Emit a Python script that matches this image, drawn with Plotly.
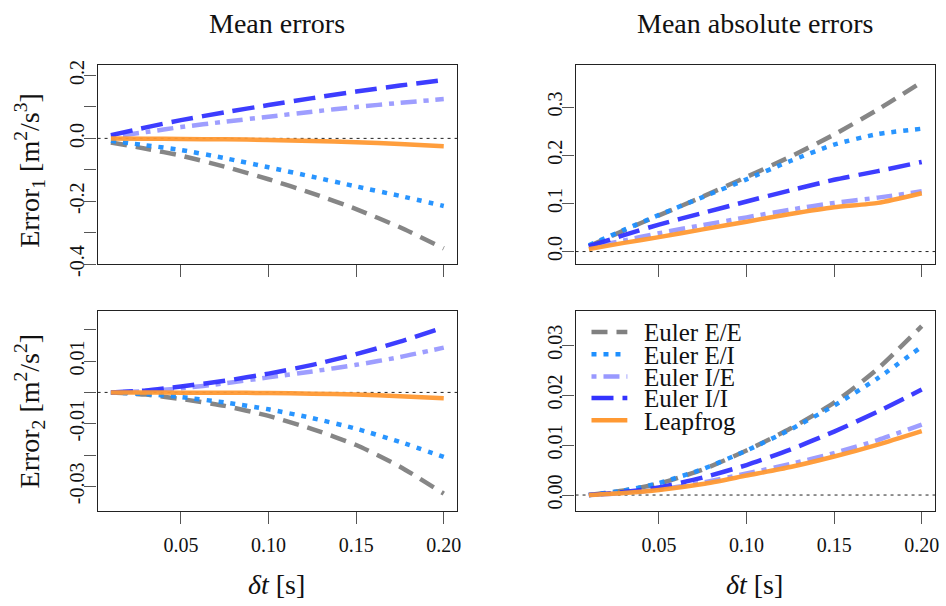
import plotly.graph_objects as go

# ---------------- data ----------------
dt = [0.01, 0.03, 0.05, 0.075, 0.10, 0.125, 0.15, 0.175, 0.20]
series_names = ["Euler E/E", "Euler E/I", "Euler I/E", "Euler I/I", "Leapfrog"]

# Mean errors, Error_1
me1_EE = [-0.013, -0.033, -0.055, -0.090, -0.130, -0.175, -0.225, -0.283, -0.350]
me1_EI = [-0.008, -0.022, -0.037, -0.063, -0.092, -0.122, -0.153, -0.183, -0.215]
me1_IE = [0.005, 0.020, 0.036, 0.053, 0.069, 0.085, 0.100, 0.113, 0.125]
me1_II = [0.010, 0.035, 0.058, 0.083, 0.106, 0.128, 0.149, 0.168, 0.186]
me1_LF = [0.000, -0.001, -0.002, -0.003, -0.005, -0.008, -0.012, -0.018, -0.025]

# Mean absolute errors, Error_1
mae1_EE = [0.011, 0.044, 0.075, 0.114, 0.155, 0.197, 0.243, 0.295, 0.352]
mae1_EI = [0.013, 0.045, 0.076, 0.113, 0.150, 0.188, 0.222, 0.244, 0.255]
mae1_IE = [0.008, 0.023, 0.038, 0.055, 0.071, 0.087, 0.101, 0.112, 0.125]
mae1_II = [0.011, 0.034, 0.056, 0.080, 0.104, 0.127, 0.149, 0.167, 0.186]
mae1_LF = [0.005, 0.018, 0.030, 0.046, 0.062, 0.078, 0.092, 0.101, 0.121]

# Mean errors, Error_2
me2_EE = [0.0, -0.0007, -0.0021, -0.0043, -0.0075, -0.0117, -0.0168, -0.0237, -0.0323]
me2_EI = [0.0, -0.0005, -0.0015, -0.0032, -0.0054, -0.0082, -0.0116, -0.0158, -0.0206]
me2_IE = [0.0, 0.0004, 0.0013, 0.0029, 0.0048, 0.0067, 0.0088, 0.0113, 0.0143]
me2_II = [0.0, 0.0006, 0.0019, 0.0037, 0.0060, 0.0088, 0.0122, 0.0162, 0.0208]
me2_LF = [0.0, 0.0, -0.0001, -0.0001, -0.0002, -0.0004, -0.0007, -0.0012, -0.0019]

# Mean absolute errors, Error_2
mae2_EE = [0.0, 0.0009, 0.0023, 0.0051, 0.0089, 0.0133, 0.0185, 0.0253, 0.0338]
mae2_EI = [0.0, 0.0009, 0.0024, 0.0052, 0.0089, 0.0131, 0.0179, 0.0234, 0.0297]
mae2_IE = [0.0, 0.0004, 0.0011, 0.0025, 0.0043, 0.0062, 0.0084, 0.0110, 0.0141]
mae2_II = [0.0, 0.0006, 0.0015, 0.0035, 0.0060, 0.0091, 0.0127, 0.0167, 0.0211]
mae2_LF = [0.0, 0.0004, 0.0010, 0.0022, 0.0039, 0.0056, 0.0077, 0.0101, 0.0128]

x_ticks = [0.05, 0.10, 0.15, 0.20]
x_tick_labels = ["0.05", "0.10", "0.15", "0.20"]
y1L_ticks = [-0.4, -0.3, -0.2, -0.1, 0.0, 0.1, 0.2]
y1L_labels = ["-0.4", "", "-0.2", "", "0.0", "", "0.2"]
y1R_ticks = [0.0, 0.1, 0.2, 0.3]
y1R_labels = ["0.0", "0.1", "0.2", "0.3"]
y2L_ticks = [-0.03, -0.02, -0.01, 0.0, 0.01, 0.02]
y2L_labels = ["-0.03", "", "-0.01", "", "0.01", ""]
y2R_ticks = [0.0, 0.01, 0.02, 0.03]
y2R_labels = ["0.00", "0.01", "0.02", "0.03"]

# ---------------- styles ----------------
colors = ["#808080", "#1E90FF", "#9999FF", "#3333FF", "#FF9933"]
dashes = ["16px,9px", "5px,7px", "5px,7px,16px,7px", "22px,9px", "solid"]
LW = 4.5
FONT = "Liberation Serif, Times New Roman, serif"
TXT = "#111"

fig = go.Figure()

panels = [
    ("x", "y", [me1_EE, me1_EI, me1_IE, me1_II, me1_LF]),
    ("x2", "y2", [mae1_EE, mae1_EI, mae1_IE, mae1_II, mae1_LF]),
    ("x3", "y3", [me2_EE, me2_EI, me2_IE, me2_II, me2_LF]),
    ("x4", "y4", [mae2_EE, mae2_EI, mae2_IE, mae2_II, mae2_LF]),
]
for pi, (xa, ya, data) in enumerate(panels):
    for si, vals in enumerate(data):
        fig.add_trace(go.Scatter(
            x=dt, y=vals, xaxis=xa, yaxis=ya, mode="lines",
            name=series_names[si],
            line=dict(color=colors[si], width=LW, dash=dashes[si], shape="spline", smoothing=0.6),
            opacity=0.95,
            showlegend=False,
        ))

W, H = 946, 606
def px_x(a, b):
    return [a / W, b / W]
def px_y(top, bottom):
    return [1 - bottom / H, 1 - top / H]

xdomL = px_x(98, 459)
xdomR = px_x(578, 939)
ydomT = px_y(62, 267)
ydomB = px_y(315, 521)

axis_common = dict(
    showline=True, mirror=True, linecolor="#222", linewidth=1.3,
    ticks="outside", ticklen=12, tickwidth=1.3, tickcolor="#555",
    showgrid=False, zeroline=False,
    tickfont=dict(family=FONT, size=20, color=TXT),
)
xrange = [0.0024, 0.2076]

def xaxis(dom, anchor, labels):
    return dict(axis_common, domain=dom, anchor=anchor, range=xrange,
                tickmode="array", tickvals=x_ticks, ticklabelstandoff=4,
                ticktext=x_tick_labels if labels else [""] * len(x_ticks))

def yaxis(dom, anchor, rng, tv, tt):
    return dict(axis_common, domain=dom, anchor=anchor, range=rng,
                tickmode="array", tickvals=tv, ticktext=tt, tickangle=-90,
                ticklabelstandoff=-8)

fig.update_layout(
    width=W, height=H,
    margin=dict(l=0, r=0, t=0, b=0),
    paper_bgcolor="white", plot_bgcolor="white",
    font=dict(family=FONT, color=TXT),
    xaxis=xaxis(xdomL, "y", False),
    yaxis=yaxis(ydomT, "x", [-0.40, 0.233], y1L_ticks, y1L_labels),
    xaxis2=xaxis(xdomR, "y2", False),
    yaxis2=yaxis(ydomT, "x2", [-0.026, 0.387], y1R_ticks, y1R_labels),
    xaxis3=xaxis(xdomL, "y3", True),
    yaxis3=yaxis(ydomB, "x3", [-0.0377, 0.0261], y2L_ticks, y2L_labels),
    xaxis4=xaxis(xdomR, "y4", True),
    yaxis4=yaxis(ydomB, "x4", [-0.0031, 0.0369], y2R_ticks, y2R_labels),
    showlegend=False,
)

# zero reference lines
for xa, ya in [("x", "y"), ("x2", "y2"), ("x3", "y3"), ("x4", "y4")]:
    fig.add_shape(type="line", xref=f"{xa} domain", yref=ya, x0=0, x1=1, y0=0, y1=0,
                  line=dict(color="#222", width=1, dash="3px,4px"), layer="below")

# legend (drawn as line samples + text, R-style compact spacing)
leg_y = [337, 360, 383, 405, 428]
for si, name in enumerate(series_names):
    yy = 1 - leg_y[si] / H
    fig.add_shape(type="line", xref="paper", yref="paper", x0=594 / W, x1=630 / W, y0=yy, y1=yy,
                  line=dict(color=colors[si], width=LW, dash=dashes[si]))

ann = []
for si, name in enumerate(series_names):
    ann.append(dict(text=name, x=645 / W, y=1 - (leg_y[si] + 1) / H, xref="paper", yref="paper",
                    xanchor="left", yanchor="middle", showarrow=False,
                    font=dict(family=FONT, size=25, color=TXT)))

def center_ann(text, cx, cy, angle=0, size=28):
    return dict(text=text, x=cx / W, y=1 - cy / H, xref="paper", yref="paper",
                xanchor="center", yanchor="middle", textangle=angle, showarrow=False,
                font=dict(family=FONT, size=size, color=TXT))

ann.append(center_ann("Mean errors", 278, 19))
ann.append(center_ann("Mean absolute errors", 758, 19))
ann.append(center_ann("Error<sub>1</sub> [m<sup>2</sup>/s<sup>3</sup>]", 30, 170, -90))
ann.append(center_ann("Error<sub>2</sub> [m<sup>2</sup>/s<sup>2</sup>]", 30, 418, -90))
ann.append(center_ann("<i>δt</i> [s]", 278, 597))
ann.append(center_ann("<i>δt</i> [s]", 758, 597))
fig.update_layout(annotations=ann)

fig.write_html("out.html", post_script="document.body.style.margin='0';",
               config={"displayModeBar": False})
